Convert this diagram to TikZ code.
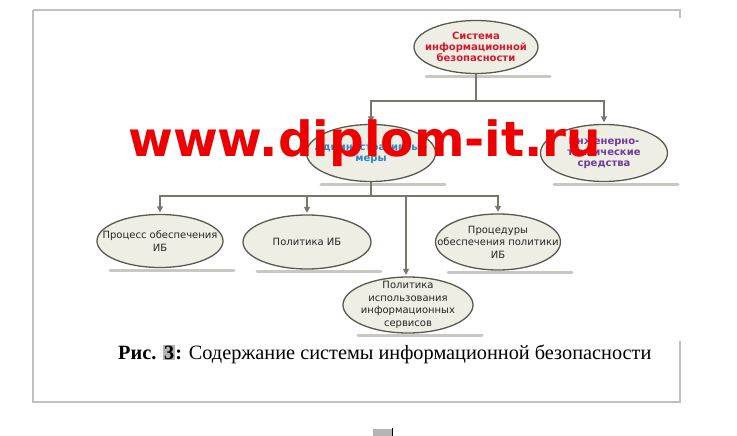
\documentclass[tikz,border=0pt]{standalone}
\usepackage{fontspec}
\setmainfont{Liberation Serif}
\newfontfamily\dejavu{DejaVu Sans}
\usetikzlibrary{shapes.geometric,arrows.meta}
\pgfdeclarelayer{bg}
\pgfsetlayers{bg,main}
\definecolor{ellfill}{RGB}{238,238,228}
\definecolor{elldraw}{RGB}{88,90,78}
\definecolor{conncol}{RGB}{118,120,108}
\definecolor{shadowcol}{RGB}{200,200,195}
\definecolor{redtxt}{RGB}{215,25,45}
\definecolor{bluetxt}{RGB}{50,130,200}
\definecolor{purptxt}{RGB}{110,60,160}
\definecolor{framecol}{RGB}{192,192,192}
\definecolor{wmred}{RGB}{238,0,0}
\definecolor{hlgray}{RGB}{180,180,180}
\setlength{\fboxsep}{1pt}
\tikzset{
  ell/.style={ellipse, draw=elldraw, fill=ellfill, line width=1.3pt, inner sep=0pt},
  lbl/.style={align=center, inner sep=0pt, text=black!85, font=\dejavu\fontsize{10}{12.5}\selectfont},
  blbl/.style={align=center, inner sep=0pt, font=\dejavu\bfseries\fontsize{10}{11}\selectfont},
  connline/.style={draw=conncol, line width=1.6pt},
  conn/.style={connline, -{Triangle[length=6pt,width=6pt]}, shorten >=1.5pt},
  shadowline/.style={draw=shadowcol, line width=3pt, line cap=round},
  framec/.style={draw=framecol, line width=1.2pt}
}
\begin{document}
\begin{tikzpicture}[x=1pt,y=-1pt]
\useasboundingbox (0,0) rectangle (737,436);
% page frame
\draw[framec] (33,10) -- (680,10) -- (680,18);
\draw[framec] (33,10) -- (33,402) -- (680,402) -- (680,341);
% ellipses
\node[ell, minimum width=124pt, minimum height=53pt] (top) at (476,47) {};
\node[ell, minimum width=129pt, minimum height=57pt] (adm) at (371,153) {};
\node[ell, minimum width=127pt, minimum height=57pt] (eng) at (604,153) {};
\node[ell, minimum width=126pt, minimum height=53pt] (p1) at (160,241) {};
\node[ell, minimum width=128pt, minimum height=54pt] (p2) at (307,242) {};
\node[ell, minimum width=125pt, minimum height=56pt] (p3) at (498,242) {};
\node[ell, minimum width=130pt, minimum height=56pt] (p4) at (408,305) {};
% shadows
\begin{pgfonlayer}{bg}
\foreach \n in {top,adm,eng,p1,p2,p3,p4}{
  \draw[shadowline] ([xshift=-50pt,yshift=-2pt]\n.south) -- ([xshift=74pt,yshift=-2pt]\n.south);
}
\end{pgfonlayer}
% labels
\node[blbl, text=redtxt] (ttop) at (top) {Система\\информационной\\безопасности};
\node[blbl, text=bluetxt] (tadm) at (adm) {Административные\\меры};
\node[blbl, text=purptxt] (teng) at (eng) {Инженерно-\\технические\\средства};
\node[lbl] (tp1) at (p1) {Процесс обеспечения\\ИБ};
\node[lbl] (tp2) at (p2) {Политика ИБ};
\node[lbl] (tp3) at (p3) {Процедуры\\обеспечения политики\\ИБ};
\node[lbl] (tp4) at (p4) {Политика\\использования\\информационных\\сервисов};
% connectors
\coordinate (j1) at ([yshift=-27pt]top.south);
\draw[connline] (top.south) -- (j1);
\draw[conn] (j1) -| (adm.north);
\draw[conn] (j1) -| (eng.north);
\coordinate (j2) at ([yshift=-14pt]adm.south);
\draw[connline] (adm.south) -- (j2);
\draw[conn] (j2) -| (p1.north);
\draw[conn] (j2) -| (p2.north);
\draw[conn] (j2) -| (p3.north);
\draw[conn] (j2) -| ([xshift=-2pt]p4.north);
% watermark
\node[anchor=base west, inner sep=0pt, text=wmred, font=\dejavu\bfseries\fontsize{48.5}{48}\selectfont] (wm) at (128,157) {www.diplom-it.ru};
% caption
\node[anchor=base west, inner sep=0pt, font=\fontsize{20.3}{23}\selectfont] (cap) at (118,359) {\textbf{Рис. \colorbox{hlgray}{3}:} Содержание системы информационной безопасности};
% bottom mark
\fill[hlgray] (373,429) rectangle (392,436);
\draw[black, line width=0.8pt] (392,428) -- (392,436);
\end{tikzpicture}
\end{document}
